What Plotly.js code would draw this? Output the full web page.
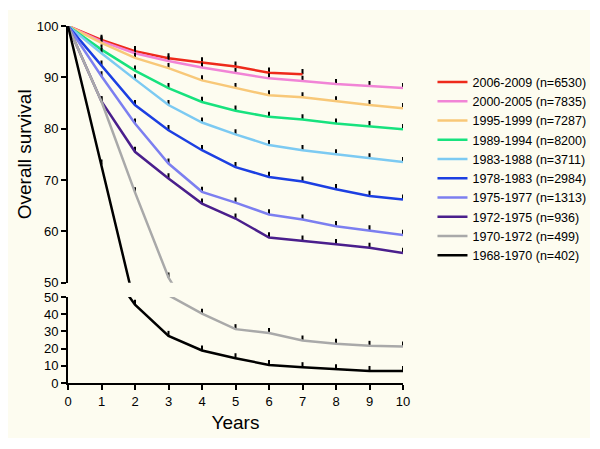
<!DOCTYPE html>
<html>
<head>
<meta charset="utf-8">
<script src="https://cdn.plot.ly/plotly-3.0.1.min.js"></script>
<style>
  html, body { margin: 0; padding: 0; background: #ffffff; }
  #chart { position: absolute; left: 8px; top: 10px; width: 582px; height: 428px; }
</style>
</head>
<body>
<div id="chart"></div>
<script>
// ---- data ----
const years = [0, 1, 2, 3, 4, 5, 6, 7, 8, 9, 10];
const xTickVals = [0, 1, 2, 3, 4, 5, 6, 7, 8, 9, 10];
const upperTicks = [50, 60, 70, 80, 90, 100];
const lowerTicks = [0, 10, 20, 30, 40, 50];

const seriesNames = [
  "2006-2009 (n=6530)", "2000-2005 (n=7835)", "1995-1999 (n=7287)",
  "1989-1994 (n=8200)", "1983-1988 (n=3711)", "1978-1983 (n=2984)",
  "1975-1977 (n=1313)", "1972-1975 (n=936)", "1970-1972 (n=499)",
  "1968-1970 (n=402)"
];
const s2006 = [100, 97.3, 95.1, 93.7, 92.9, 92.1, 90.9, 90.6];
const s2000 = [100, 97.0, 94.7, 93.2, 91.9, 90.8, 89.8, 89.3, 88.7, 88.3, 87.9];
const s1995 = [100, 96.7, 93.8, 91.8, 89.4, 87.9, 86.5, 86.1, 85.3, 84.6, 84.0];
const s1989 = [100, 95.4, 91.3, 87.9, 85.2, 83.5, 82.3, 81.8, 81.0, 80.5, 79.9];
const s1983 = [100, 94.7, 89.6, 84.6, 81.2, 78.9, 76.8, 75.8, 75.0, 74.2, 73.5];
const s1978 = [100, 92.3, 84.6, 79.7, 75.8, 72.5, 70.6, 69.7, 68.2, 66.9, 66.2];
const s1975 = [100, 90.2, 81.0, 73.2, 67.7, 65.6, 63.3, 62.3, 61.0, 60.2, 59.3];
const s1972 = [100, 85.3, 75.5, 70.3, 65.4, 62.5, 58.8, 58.2, 57.5, 56.8, 55.8];
const s1970 = [100, 85.3, 67.6, 51.0, 40.3, 31.3, 29.0, 24.7, 22.8, 21.6, 21.2];
const s1968 = [100, 73.0, 45.5, 27.4, 18.9, 14.4, 10.5, 9.2, 8.0, 7.0, 7.0];

const seriesValues = [s2006, s2000, s1995, s1989, s1983, s1978, s1975, s1972, s1970, s1968];
const seriesColors = ["#ee2a1b", "#f184d6", "#f8c878", "#17e27e", "#7ccaf2",
                      "#1c3fe2", "#7c7ff0", "#4a1f8c", "#a9a9a9", "#000000"];

// ---- traces ----
const traces = [];
seriesValues.forEach((vals, i) => {
  const xs = years.slice(0, vals.length);
  traces.push({
    type: "scatter", mode: "lines",
    x: xs, y: vals, xaxis: "x", yaxis: "y",
    name: seriesNames[i],
    line: { color: seriesColors[i], width: 2.5 },
    error_y: { type: "constant", value: 1.0, valueminus: 0, symmetric: false,
               width: 0, thickness: 2, color: "#000000" },
    hoverinfo: "skip"
  });
});
seriesValues.forEach((vals, i) => {
  if (Math.min(...vals) >= 50) return;
  const xs = years.slice(0, vals.length);
  traces.push({
    type: "scatter", mode: "lines",
    x: xs, y: vals, xaxis: "x", yaxis: "y2",
    name: seriesNames[i], showlegend: false,
    line: { color: seriesColors[i], width: 2.5 },
    error_y: { type: "constant", value: 2.9, valueminus: 0, symmetric: false,
               width: 0, thickness: 2, color: "#000000" },
    hoverinfo: "skip"
  });
});

const FONT = "Liberation Sans, Arial, sans-serif";
const axisCommon = {
  showgrid: false, zeroline: false, showline: true,
  linecolor: "#000000", linewidth: 2,
  ticks: "outside", ticklen: 5, tickwidth: 2, tickcolor: "#000000",
  tickfont: { family: FONT, size: 13, color: "#000000" }
};

const layout = {
  width: 582, height: 428,
  paper_bgcolor: "#fdfcf0",
  plot_bgcolor: "rgba(0,0,0,0)",
  margin: { l: 60, r: 187.3, t: 16, b: 55, autoexpand: false },
  showlegend: true,
  legend: {
    x: 1.088, xanchor: "left", y: 0.884, yanchor: "top",
    bgcolor: "rgba(0,0,0,0)",
    font: { family: FONT, size: 12.5, color: "#000000" }
  },
  xaxis: Object.assign({}, axisCommon, {
    range: [0, 10], anchor: "y2",
    tickvals: xTickVals,
    title: { text: "Years", font: { family: FONT, size: 19, color: "#000000" }, standoff: 8 }
  }),
  yaxis: Object.assign({}, axisCommon, {
    range: [50, 100], domain: [0.281, 1], anchor: "x",
    tickvals: upperTicks,
    title: { text: "Overall survival", font: { family: FONT, size: 19, color: "#000000" }, standoff: 0 }
  }),
  yaxis2: Object.assign({}, axisCommon, {
    range: [0, 50], domain: [0, 0.241], anchor: "x",
    tickvals: lowerTicks
  })
};

Plotly.newPlot("chart", traces, layout, { displayModeBar: false, staticPlot: true });
</script>
</body>
</html>
